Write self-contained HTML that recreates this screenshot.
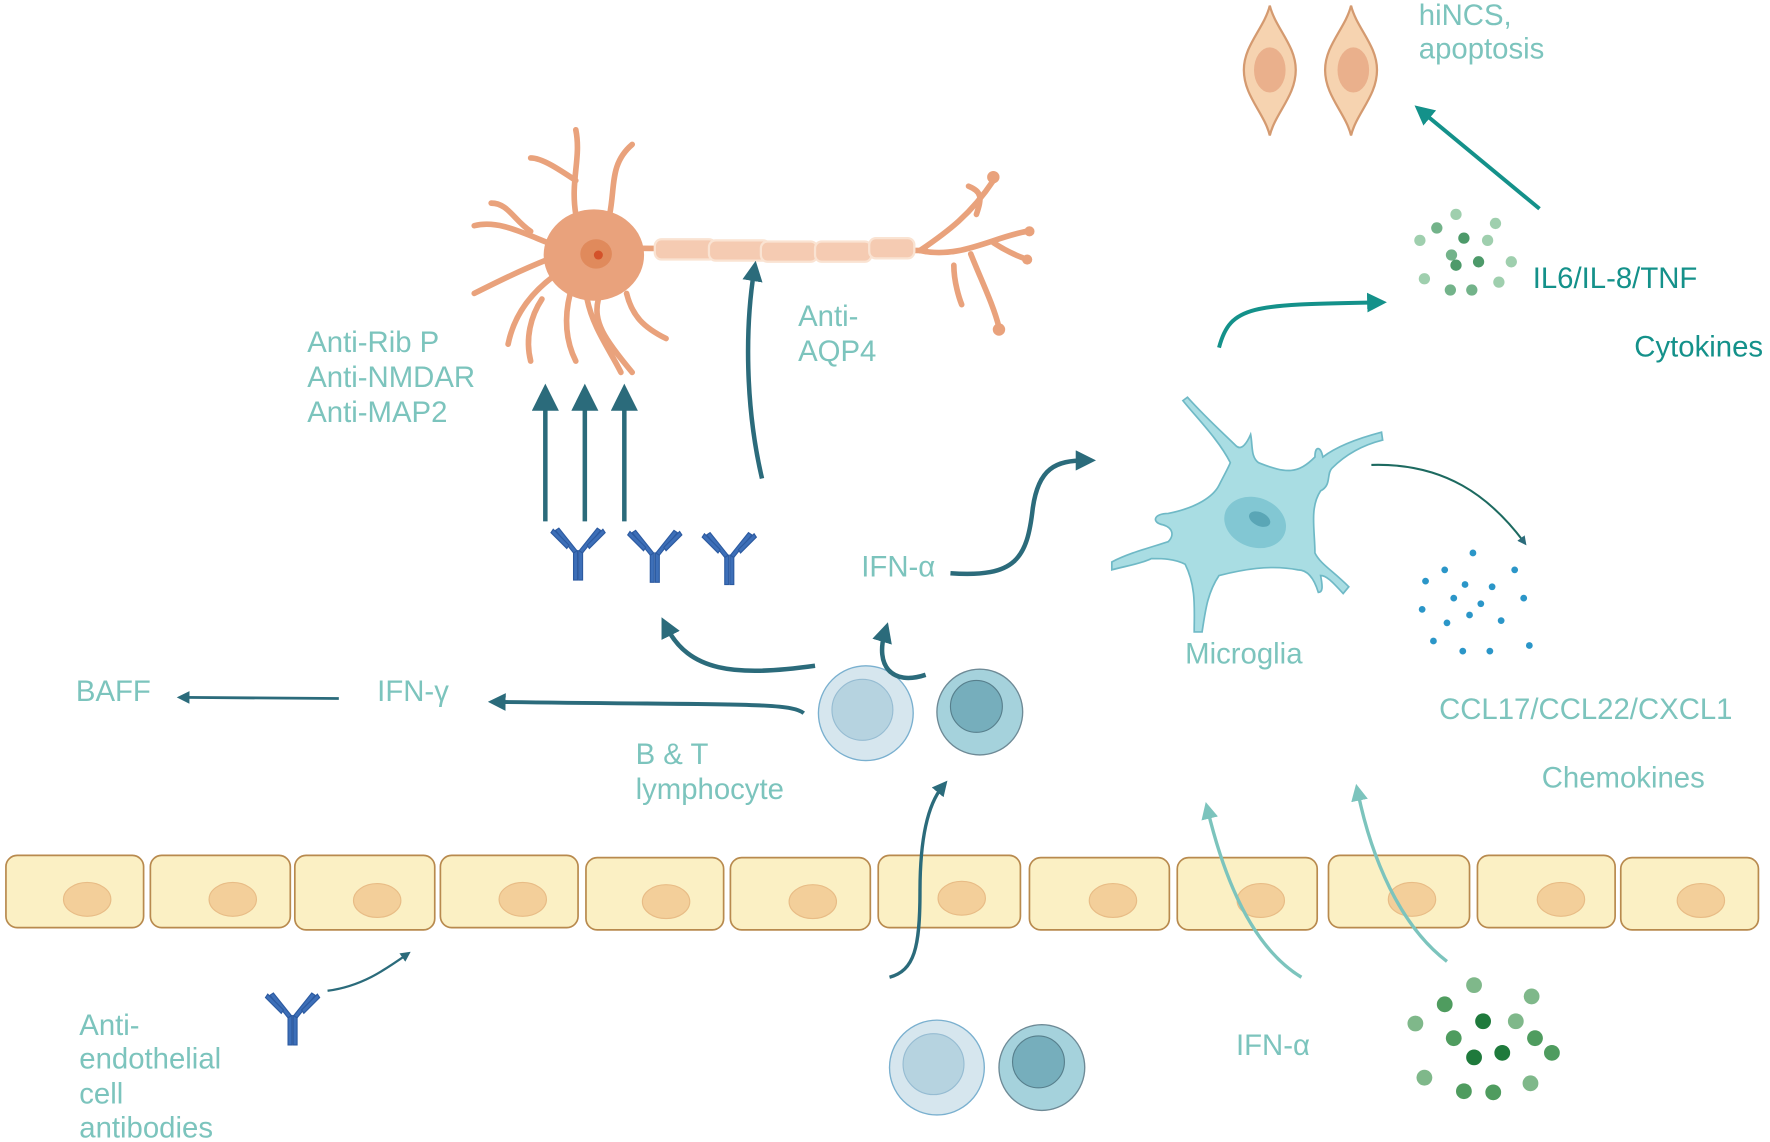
<!DOCTYPE html>
<html><head><meta charset="utf-8"><style>
html,body{margin:0;padding:0;background:#fff;width:1770px;height:1142px;overflow:hidden}
svg{display:block}
text{font-family:"Liberation Sans",sans-serif;font-size:26px;fill:#7cc4bd}
</style></head><body>
<svg width="1770" height="1142" viewBox="0 0 1568 1012" xmlns="http://www.w3.org/2000/svg">
<defs>
<marker id="ad" viewBox="0 0 10 10" refX="5" refY="5" markerWidth="4.5" markerHeight="4.5" orient="auto"><path d="M0,0L10,5L0,10z" fill="#2b6b7b"/></marker>
<marker id="al" viewBox="0 0 10 10" refX="5" refY="5" markerWidth="5" markerHeight="5" orient="auto"><path d="M0,0L10,5L0,10z" fill="#7cc4bd"/></marker>
<marker id="at" viewBox="0 0 10 10" refX="5" refY="5" markerWidth="5" markerHeight="5" orient="auto"><path d="M0,0L10,5L0,10z" fill="#14918a"/></marker>
<marker id="as" viewBox="0 0 10 10" refX="5" refY="5" markerWidth="6" markerHeight="6" orient="auto"><path d="M0,0L10,5L0,10z" fill="#2b6b7b"/></marker>
<g id="ab" fill="#3d6fb8" stroke="#2c5aa0" stroke-width="1">
<rect x="-4" y="0" width="3.5" height="26"/><rect x="0.5" y="0" width="3.5" height="26"/>
<path d="M-4,2 L-20,-18 L-17,-20 L-1,0z"/><path d="M-10,-2 L-24,-16 L-22,-19 L-8,-5z"/>
<path d="M4,2 L20,-18 L17,-20 L1,0z"/><path d="M10,-2 L24,-16 L22,-19 L8,-5z"/>
</g>
</defs>

<g stroke="#b88a4e" stroke-width="1.5" fill="#fbf0c4">
<rect x="5" y="758" width="122" height="64" rx="10"/>
<rect x="133" y="758" width="124" height="64" rx="10"/>
<rect x="261" y="758" width="124" height="66" rx="10"/>
<rect x="390" y="758" width="122" height="64" rx="10"/>
<rect x="519" y="760" width="122" height="64" rx="10"/>
<rect x="647" y="760" width="124" height="64" rx="10"/>
<rect x="778" y="758" width="126" height="64" rx="10"/>
<rect x="912" y="760" width="124" height="64" rx="10"/>
<rect x="1043" y="760" width="124" height="64" rx="10"/>
<rect x="1177" y="758" width="125" height="64" rx="10"/>
<rect x="1309" y="758" width="122" height="64" rx="10"/>
<rect x="1436" y="760" width="122" height="64" rx="10"/>
</g>
<g fill="#f3cf9a" stroke="#e8bc86" stroke-width="1">
<ellipse cx="77" cy="797" rx="21" ry="15"/><ellipse cx="206" cy="797" rx="21" ry="15"/><ellipse cx="334" cy="798" rx="21" ry="15"/><ellipse cx="463" cy="797" rx="21" ry="15"/><ellipse cx="590" cy="799" rx="21" ry="15"/><ellipse cx="720" cy="799" rx="21" ry="15"/><ellipse cx="852" cy="796" rx="21" ry="15"/><ellipse cx="986" cy="798" rx="21" ry="15"/><ellipse cx="1117" cy="798" rx="21" ry="15"/><ellipse cx="1251" cy="797" rx="21" ry="15"/><ellipse cx="1383" cy="797" rx="21" ry="15"/><ellipse cx="1507" cy="798" rx="21" ry="15"/>
</g>

<g fill="#e9a27c" stroke="#e9a27c" stroke-linecap="round" stroke-linejoin="round">
<ellipse cx="526" cy="226" rx="44" ry="40"/>
<g fill="none" stroke-width="5">
<path d="M510,190 C505,160 515,140 510,115"/><path d="M540,190 C545,165 540,145 560,128"/><path d="M510,160 C495,150 480,140 470,140"/>
<path d="M485,215 C460,205 440,195 420,200"/><path d="M470,205 C455,195 450,180 435,180"/><path d="M485,230 C460,240 440,250 420,260"/>
<path d="M490,245 C470,260 455,280 450,305"/><path d="M505,260 C500,280 500,300 510,320"/><path d="M530,265 C525,285 535,300 560,330"/><path d="M555,260 C560,280 570,290 590,300"/>
<path d="M520,265 C525,290 540,310 550,330"/><path d="M480,265 C470,280 465,300 470,320"/>
<path d="M565,220 L820,222"/><path d="M815,222 C840,205 860,190 880,160"/><path d="M815,222 C850,230 880,210 910,205"/><path d="M860,225 C870,250 880,270 885,290"/><path d="M865,190 C870,175 870,170 858,165"/><path d="M845,235 C845,250 850,265 852,270"/><path d="M880,215 C895,225 905,228 910,230"/>
</g>
<circle cx="885" cy="292" r="5"/><circle cx="880" cy="157" r="5"/><circle cx="912" cy="205" r="4"/><circle cx="910" cy="230" r="4"/>
</g>
<ellipse cx="528" cy="225" rx="14" ry="13" fill="#e08a5c"/><circle cx="530" cy="226" r="4" fill="#d4522a"/>
<g fill="#f5cbb2" stroke="#fae3d2" stroke-width="2">
<rect x="580" y="212" width="54" height="18" rx="6"/><rect x="628" y="213" width="54" height="18" rx="6"/><rect x="674" y="214" width="50" height="18" rx="6"/><rect x="722" y="214" width="50" height="18" rx="6"/><rect x="770" y="211" width="40" height="18" rx="6"/>
</g>

<g fill="#f6d3b0" stroke="#d49a70" stroke-width="2">
<path d="M1125,5 C1130,25 1148,40 1148,62 C1148,85 1130,100 1125,120 C1120,100 1102,85 1102,62 C1102,40 1120,25 1125,5z"/>
<path d="M1197,5 C1202,25 1220,40 1220,62 C1220,85 1202,100 1197,120 C1192,100 1174,85 1174,62 C1174,40 1192,25 1197,5z"/>
</g>
<ellipse cx="1125" cy="62" rx="14" ry="20" fill="#eab08c"/><ellipse cx="1199" cy="62" rx="14" ry="20" fill="#eab08c"/>

<path d="M1090,410 C1080,390 1060,370 1048,355 L1052,352 C1070,372 1085,385 1095,395 C1100,400 1105,392 1108,385 C1110,395 1108,405 1115,410 C1140,420 1150,420 1165,405 C1165,395 1170,395 1172,405 C1185,395 1205,388 1224,383 L1225,390 C1205,395 1190,405 1180,415 C1175,420 1180,430 1170,435 C1160,450 1165,470 1165,490 C1170,500 1180,505 1195,520 L1190,526 C1180,515 1175,510 1170,510 C1172,520 1172,525 1168,525 C1165,515 1160,505 1150,505 C1125,500 1100,505 1080,510 C1070,525 1068,540 1065,560 L1058,560 C1058,540 1060,520 1050,500 C1040,495 1030,495 1020,495 C1010,500 995,502 985,505 L985,498 C1000,490 1020,485 1035,480 C1040,475 1040,468 1030,465 C1020,463 1022,455 1035,455 C1060,450 1075,440 1080,430 C1085,420 1088,415 1090,410z" fill="#a9dde3" stroke="#6fb9c6" stroke-width="1.5"/>
<ellipse cx="1112" cy="463" rx="28" ry="22" fill="#82c7d3" transform="rotate(20 1112 463)"/>
<ellipse cx="1116" cy="460" rx="10" ry="6" fill="#5aa6b6" transform="rotate(25 1116 460)"/>

<circle cx="767" cy="632" r="42" fill="#d6e6ee" stroke="#7ab0cf" stroke-width="1.2"/><circle cx="764" cy="629" r="27" fill="#b6d3e0" stroke="#96bcd2"/>
<circle cx="868" cy="631" r="38" fill="#a5d2dc" stroke="#6e8a96" stroke-width="1.2"/><circle cx="865" cy="626" r="23" fill="#76aebc" stroke="#577f8c"/>
<circle cx="830" cy="946" r="42" fill="#d6e6ee" stroke="#7ab0cf" stroke-width="1.2"/><circle cx="827" cy="943" r="27" fill="#b6d3e0" stroke="#96bcd2"/>
<circle cx="923" cy="946" r="38" fill="#a5d2dc" stroke="#6e8a96" stroke-width="1.2"/><circle cx="920" cy="941" r="23" fill="#76aebc" stroke="#577f8c"/>

<use href="#ab" x="512" y="488"/><use href="#ab" x="580" y="490"/><use href="#ab" x="646" y="492"/><use href="#ab" x="259" y="900"/>

<g stroke="#2b6b7b" stroke-width="4" fill="none">
<path d="M483,462 L483,352" marker-end="url(#as)"/>
<path d="M518,462 L518,352" marker-end="url(#as)"/>
<path d="M553,462 L553,352" marker-end="url(#as)"/>
<path d="M675,424 C660,360 660,290 668,240" marker-end="url(#ad)"/>
<path d="M842,508 C900,512 910,495 915,450 C920,415 935,408 962,408" marker-end="url(#ad)"/>
<path d="M722,590 C650,600 610,595 590,555" marker-end="url(#ad)"/>
<path d="M820,598 C790,608 775,590 784,560" marker-end="url(#ad)"/>
<path d="M712,632 C700,622 650,625 440,622" stroke-width="3.5" marker-end="url(#ad)"/>
<path d="M300,619 L162,618" stroke-width="2.5" marker-end="url(#ad)"/>
<path d="M788,866 C810,860 815,840 815,790 C815,750 820,715 835,697" stroke-width="3" marker-end="url(#ad)"/>
<path d="M290,878 C320,874 340,860 360,846" stroke-width="2" marker-end="url(#ad)"/>
<path d="M1215,412 C1280,410 1320,440 1350,480" stroke="#1d6a60" stroke-width="1.8" marker-end="url(#ad)"/>
</g>
<g stroke="#14918a" stroke-width="3.5" fill="none">
<path d="M1080,308 C1090,270 1110,270 1220,268" marker-end="url(#at)"/>
<path d="M1364,185 L1260,99" marker-end="url(#at)"/>
</g>
<g stroke="#7cc4bd" stroke-width="3" fill="none">
<path d="M1153,866 C1110,840 1085,780 1070,718" marker-end="url(#al)"/>
<path d="M1282,852 C1240,820 1215,760 1203,702" marker-end="url(#al)"/>
</g>

<g fill="#9fcfae"><circle cx="1290" cy="190" r="5"/><circle cx="1325" cy="198" r="5"/><circle cx="1258" cy="213" r="5"/><circle cx="1318" cy="213" r="5"/><circle cx="1339" cy="232" r="5"/><circle cx="1262" cy="247" r="5"/><circle cx="1328" cy="250" r="5"/></g>
<g fill="#73b38a"><circle cx="1273" cy="202" r="5"/><circle cx="1286" cy="226" r="5"/><circle cx="1285" cy="257" r="5"/><circle cx="1304" cy="257" r="5"/></g>
<g fill="#4d9a6a"><circle cx="1297" cy="211" r="5"/><circle cx="1290" cy="235" r="5"/><circle cx="1310" cy="232" r="5"/></g>
<g fill="#2b96c8"><circle cx="1305" cy="490" r="3"/><circle cx="1280" cy="505" r="3"/><circle cx="1342" cy="505" r="3"/><circle cx="1263" cy="515" r="3"/><circle cx="1298" cy="518" r="3"/><circle cx="1322" cy="520" r="3"/><circle cx="1288" cy="530" r="3"/><circle cx="1312" cy="535" r="3"/><circle cx="1350" cy="530" r="3"/><circle cx="1260" cy="540" r="3"/><circle cx="1302" cy="545" r="3"/><circle cx="1282" cy="552" r="3"/><circle cx="1330" cy="550" r="3"/><circle cx="1296" cy="577" r="3"/><circle cx="1320" cy="577" r="3"/><circle cx="1355" cy="572" r="3"/><circle cx="1270" cy="568" r="3"/></g>
<g fill="#7fb88a"><circle cx="1306" cy="873" r="7"/><circle cx="1357" cy="883" r="7"/><circle cx="1254" cy="907" r="7"/><circle cx="1343" cy="905" r="7"/><circle cx="1262" cy="955" r="7"/><circle cx="1356" cy="960" r="7"/></g>
<g fill="#4f9c5f"><circle cx="1280" cy="890" r="7"/><circle cx="1288" cy="920" r="7"/><circle cx="1375" cy="933" r="7"/><circle cx="1297" cy="967" r="7"/><circle cx="1323" cy="968" r="7"/><circle cx="1360" cy="920" r="7"/></g>
<g fill="#1f7a3c"><circle cx="1314" cy="905" r="7"/><circle cx="1306" cy="937" r="7"/><circle cx="1331" cy="933" r="7"/></g>

<text x="1257" y="22">hiNCS,</text>
<text x="1257" y="52">apoptosis</text>
<text x="1358" y="255" style="fill:#14918a">IL6/IL-8/TNF</text>
<text x="1448" y="316" style="fill:#14918a">Cytokines</text>
<text x="272" y="312">Anti-Rib P</text>
<text x="272" y="343">Anti-NMDAR</text>
<text x="272" y="374">Anti-MAP2</text>
<text x="707" y="289">Anti-</text>
<text x="707" y="320">AQP4</text>
<text x="763" y="511">IFN-α</text>
<text x="1050" y="588">Microglia</text>
<text x="1275" y="637">CCL17/CCL22/CXCL1</text>
<text x="1366" y="698">Chemokines</text>
<text x="67" y="621">BAFF</text>
<text x="334" y="621">IFN-γ</text>
<text x="563" y="677">B &amp; T</text>
<text x="563" y="708">lymphocyte</text>
<text x="1095" y="935">IFN-α</text>
<text x="70" y="917">Anti-</text>
<text x="70" y="947">endothelial</text>
<text x="70" y="978">cell</text>
<text x="70" y="1008">antibodies</text>
</svg>
</body></html>
